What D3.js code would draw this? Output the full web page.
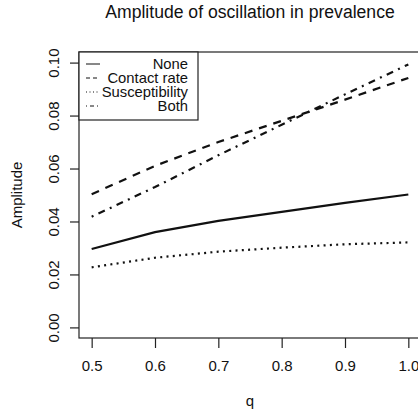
<!DOCTYPE html>
<html>
<head>
<meta charset="utf-8">
<script src="https://cdn.jsdelivr.net/npm/d3@7"></script>
<style>
  body { margin: 0; background: #fff; }
  text { font-family: "Liberation Sans", Arial, sans-serif; fill: #111; }
</style>
</head>
<body>
<div id="chart"></div>
<script>
// data
var qValues = [0.5, 0.6, 0.7, 0.8, 0.9, 1.0];
var noneVals = [0.0296, 0.0360, 0.0402, 0.0436, 0.0470, 0.0502];
var contactVals = [0.0503, 0.0610, 0.0700, 0.0780, 0.0860, 0.0942];
var suscVals = [0.0227, 0.0263, 0.0286, 0.0301, 0.0314, 0.0321];
var bothVals = [0.0418, 0.0530, 0.0650, 0.0765, 0.0880, 0.0993];
var seriesNames = ["None", "Contact rate", "Susceptibility", "Both"];
var xTicks = [0.5, 0.6, 0.7, 0.8, 0.9, 1.0];
var yTicks = [0.00, 0.02, 0.04, 0.06, 0.08, 0.10];

var W = 418, H = 413;
var margin = {top: 52, right: -3, bottom: 75, left: 79},
    width = W - margin.left - margin.right,
    height = H - margin.top - margin.bottom;

var svg = d3.select("#chart").append("svg")
    .attr("width", W)
    .attr("height", H)
  .append("g")
    .attr("transform", "translate(" + margin.left + "," + margin.top + ")");

// R style 4% padding on both axes
var x = d3.scaleLinear().domain([0.48, 1.02]).range([0, width]);
var y = d3.scaleLinear().domain([-0.004, 0.104]).range([height, 0]);

// box
svg.append("rect")
  .attr("x", 0).attr("y", 0)
  .attr("width", width).attr("height", height)
  .attr("fill", "none").attr("stroke", "#222").attr("stroke-width", 1.2);

// x axis
var xAxis = svg.append("g")
  .attr("transform", "translate(0," + height + ")")
  .call(d3.axisBottom(x).tickValues(xTicks).tickSize(10).tickSizeOuter(0)
    .tickFormat(d3.format(".1f")));
xAxis.select(".domain").remove();
xAxis.selectAll(".tick line").attr("stroke", "#222").attr("stroke-width", 1.2);
xAxis.selectAll(".tick text")
  .attr("y", 33).attr("dy", 0)
  .style("font-size", "15px").style("font-family", "Liberation Sans, Arial, sans-serif").attr("fill", "#111");

// y axis, labels parallel to axis
var yAxis = svg.append("g")
  .call(d3.axisLeft(y).tickValues(yTicks).tickSize(9).tickSizeOuter(0)
    .tickFormat(d3.format(".2f")));
yAxis.select(".domain").remove();
yAxis.selectAll(".tick line").attr("stroke", "#222").attr("stroke-width", 1.2);
yAxis.selectAll(".tick text")
  .attr("x", 0).attr("dy", 0)
  .attr("text-anchor", "middle")
  .attr("transform", "translate(-20,0) rotate(-90)")
  .style("font-size", "15px").style("font-family", "Liberation Sans, Arial, sans-serif").attr("fill", "#111");

// titles
svg.append("text")
  .attr("x", width / 2).attr("y", -34)
  .attr("text-anchor", "middle")
  .style("font-size", "17.6px")
  .text("Amplitude of oscillation in prevalence");

svg.append("text")
  .attr("x", width / 2).attr("y", height + 68)
  .attr("text-anchor", "middle")
  .style("font-size", "15px")
  .text("q");

svg.append("text")
  .attr("transform", "translate(-57," + (height / 2) + ") rotate(-90)")
  .attr("text-anchor", "middle")
  .style("font-size", "15px")
  .text("Amplitude");

// lines
var series = [
  {name: seriesNames[0], vals: noneVals, dash: null, w: 2.2},
  {name: seriesNames[1], vals: contactVals, dash: "8,7", w: 2.2},
  {name: seriesNames[2], vals: suscVals, dash: "2,4.3", w: 2.2},
  {name: seriesNames[3], vals: bothVals, dash: "2,5.5,7,5.5", w: 2.2}
];

var line = d3.line()
  .x(function(d, i) { return x(qValues[i]); })
  .y(function(d) { return y(d); });

svg.selectAll(".series")
  .data(series)
  .enter().append("path")
    .attr("class", "series")
    .attr("d", function(d) { return line(d.vals); })
    .attr("fill", "none")
    .attr("stroke", "#111")
    .attr("stroke-width", function(d) { return d.w; })
    .attr("stroke-dasharray", function(d) { return d.dash; });

// legend, top left
var legend = svg.append("g");
legend.append("rect")
  .attr("x", 0).attr("y", 0)
  .attr("width", 119).attr("height", 68)
  .attr("fill", "#fff").attr("stroke", "#222").attr("stroke-width", 1.2);

var legDash = [null, "4,3", "1,2.5", "1,3,4,3"];
var rows = legend.selectAll(".row")
  .data(series)
  .enter().append("g")
    .attr("transform", function(d, i) { return "translate(0," + (12 + i * 14) + ")"; });
rows.append("line")
  .attr("x1", 7).attr("x2", 21)
  .attr("stroke", "#111").attr("stroke-width", 1)
  .attr("stroke-dasharray", function(d, i) { return legDash[i]; });
rows.append("text")
  .attr("x", 109).attr("dy", "0.35em")
  .attr("text-anchor", "end")
  .style("font-size", "14.8px")
  .text(function(d) { return d.name; });
</script>
</body>
</html>
